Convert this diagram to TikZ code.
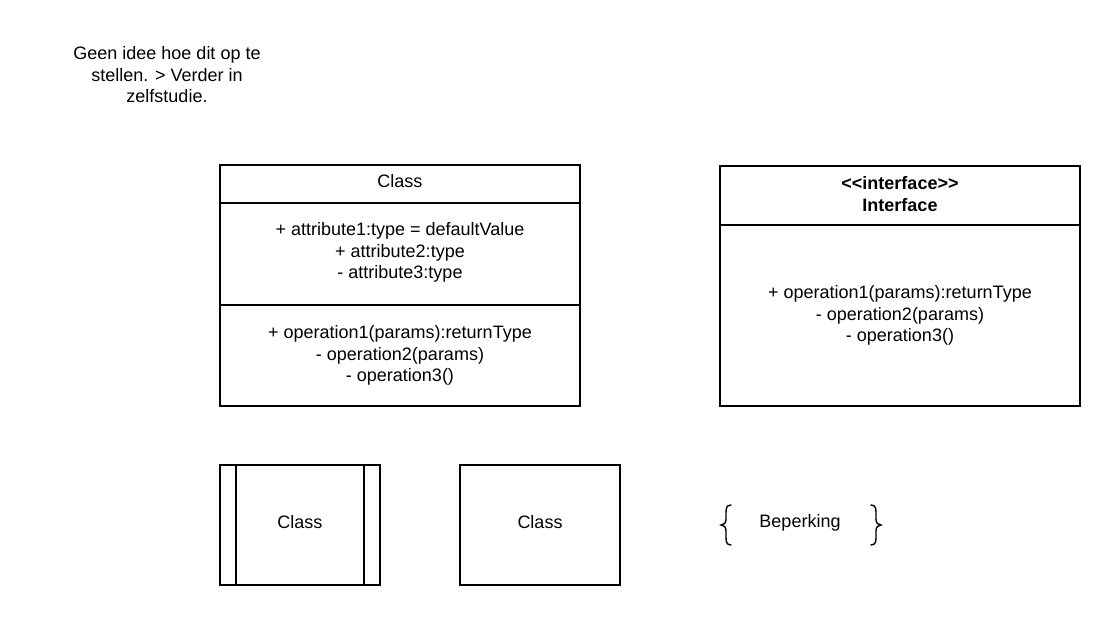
\documentclass[tikz,border=0pt]{standalone}
\usepackage{fontspec}
\setmainfont{Liberation Sans}
\usepackage{tikz}
\usetikzlibrary{positioning}

\tikzset{
  umlbox/.style={draw, line width=1.4pt, inner sep=0pt},
  umltext/.style={align=center, inner sep=0pt, font=\fontsize{18}{21.5}\selectfont},
  bracepart/.style={line width=1.4pt, line cap=round}
}

\begin{document}
\begin{tikzpicture}[x=1pt, y=-1pt]
\useasboundingbox (0,0) rectangle (1120,626);
%%%%% Note %%%%%
\node[umltext] (note) at (167,75) {Geen idee hoe dit op te\\stellen. > Verder in\\zelfstudie.};
%%%%% Class %%%%%
\node[umlbox, minimum width=360pt, minimum height=241pt] (class) at (400,285.5) {};
\draw[line width=1.4pt] (220,203) -- (580,203);
\draw[line width=1.4pt] (220,305) -- (580,305);
\node[umltext] (classname) at (400,181) {Class};
\node[umltext] (classattr) at (400,252.5) {+ attribute1:type = defaultValue\\+ attribute2:type\\- attribute3:type};
\node[umltext] (classop) at (400,355.5) {+ operation1(params):returnType\\- operation2(params)\\- operation3()};
%%%%% Interface %%%%%
\node[umlbox, minimum width=360pt, minimum height=240pt] (iface) at (900,286) {};
\draw[line width=1.4pt] (720,225) -- (1080,225);
\node[umltext, font=\fontsize{18}{21.5}\selectfont\bfseries] (ifacename) at (900,194) {<\kern0pt<interface>\kern0pt>\\Interface};
\node[umltext] (ifaceop) at (900,315.5) {+ operation1(params):returnType\\- operation2(params)\\- operation3()};
%%%%% Bottom row %%%%%
\foreach \x/\n in {300/active,540/plain}{
\node[umlbox, minimum width=160pt, minimum height=120pt] (\n) at (\x,525) {};
\node[umltext] (\n text) at (\x,522.5) {Class};
}
\draw[line width=1.4pt] (236,465) -- (236,585);
\draw[line width=1.4pt] (364,465) -- (364,585);
%%%%% Constraint %%%%%
\node[umltext] (constraint) at (800,522.5) {Beperking};
\draw[bracepart] (731,505) .. controls (726,505) and (726,509) .. (726,514) -- (726,519) .. controls (726,523) and (724,525) .. (721,525) .. controls (724,525) and (726,527) .. (726,531) -- (726,536) .. controls (726,541) and (726,545) .. (731,545);
\draw[bracepart] (871,505) .. controls (876,505) and (876,509) .. (876,514) -- (876,519) .. controls (876,523) and (878,525) .. (881,525) .. controls (878,525) and (876,527) .. (876,531) -- (876,536) .. controls (876,541) and (876,545) .. (871,545);
\end{tikzpicture}
\end{document}
